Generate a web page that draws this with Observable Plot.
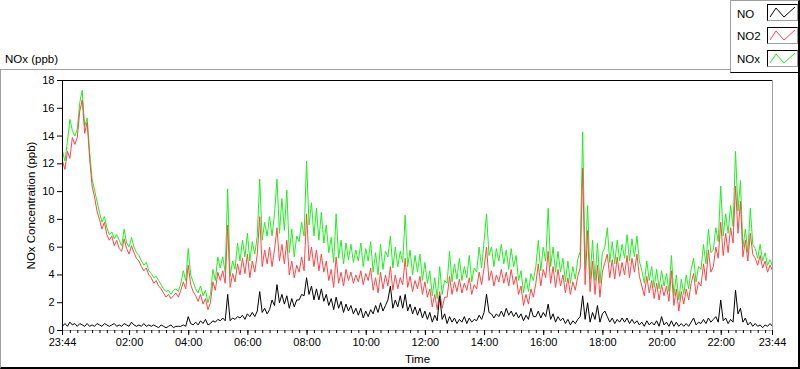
<!DOCTYPE html>
<html><head><meta charset="utf-8">
<script src="https://cdn.jsdelivr.net/npm/d3@7"></script>
<script src="https://cdn.jsdelivr.net/npm/@observablehq/plot@0.6"></script>
<style>
html,body{margin:0;padding:0;background:#fff;}
#wrap{position:relative;width:800px;height:369px;overflow:hidden;font-family:"Liberation Sans",Arial,sans-serif;color:#000;}
#frame{position:absolute;left:0;top:69px;width:800px;height:300px;box-sizing:border-box;border-left:1px solid #a0a0a0;border-top:1px solid #a0a0a0;border-right:2px solid #000;border-bottom:2px solid #000;}
#chart{position:absolute;left:0;top:0;}
#title{position:absolute;left:5px;top:51px;font-size:11.5px;line-height:16px;}
#legend{position:absolute;left:730px;top:0;width:70px;height:73px;box-sizing:border-box;border-left:1px solid #a0a0a0;border-top:1px solid #a0a0a0;border-right:2px solid #000;border-bottom:1px solid #000;background:#fff;z-index:3;}
.lab{position:absolute;left:6px;font-size:11.5px;line-height:16px;}
.sw{position:absolute;left:36px;width:31px;height:17px;box-sizing:border-box;border-top:1px solid #000;border-left:1px solid #000;border-right:1px solid #a0a0a0;border-bottom:1px solid #a0a0a0;}
.sw svg{position:absolute;left:0;top:0;}
</style>
</head><body>
<div id="wrap">
  <div id="frame"></div>
  <div id="chart"></div>
  <div id="title"></div>
  <div id="legend"></div>
</div>
<script>
// ---- data (5-minute steps from 23:44 to 23:44 next day) ----
const stepMinutes = 5;
const NO = [
0.3,0.5,0.3,0.6,0.4,0.5,0.3,0.5,0.4,0.3,0.5,0.3,
0.4,0.3,0.5,0.4,0.3,0.5,0.4,0.3,0.4,0.5,0.3,0.4,
0.3,0.5,0.4,0.3,0.6,0.4,0.3,0.4,0.3,0.5,0.3,0.4,
0.3,0.4,0.3,0.2,0.4,0.3,0.2,0.3,0.4,0.2,0.3,0.3,
0.3,0.4,0.3,1.0,0.5,0.4,0.6,0.4,0.7,0.5,0.8,0.4,
0.5,0.7,0.6,0.8,0.7,0.9,0.7,2.6,0.7,0.9,0.8,1.0,
0.9,1.1,0.8,1.2,1.0,1.3,1.0,1.4,2.8,1.3,1.6,1.2,
1.5,2.2,1.8,3.3,2.0,2.6,1.9,2.5,1.6,2.3,1.7,2.2,
2.2,2.6,2.5,3.8,2.6,3.2,2.2,3.0,2.2,3.0,2.1,2.6,
1.8,2.3,1.5,2.4,1.6,2.1,1.3,1.9,1.4,1.8,1.2,1.6,
1.1,1.6,0.9,1.4,1.0,1.5,1.2,1.8,1.3,2.0,1.4,1.8,
2.2,3.2,1.6,2.2,1.7,2.5,1.6,2.6,1.4,1.9,1.2,1.7,
1.1,1.6,0.9,1.4,0.8,1.3,0.6,1.1,0.7,2.5,0.8,1.2,
0.5,1.0,0.6,0.9,0.5,0.8,0.6,1.0,0.5,0.9,0.6,0.8,
0.7,1.1,0.8,1.3,2.6,1.3,1.2,0.9,1.2,1.0,1.4,1.0,
1.6,1.1,1.4,1.0,1.3,0.9,1.2,0.7,1.1,0.8,1.6,1.0,
1.0,1.4,0.9,1.3,1.0,1.9,0.8,1.2,0.6,1.0,0.7,0.9,
0.5,0.8,0.4,0.7,0.5,0.8,1.0,2.5,0.8,2.0,0.6,1.3,
0.8,1.8,0.6,1.2,1.4,1.0,0.6,0.9,0.5,0.8,0.6,0.9,
0.6,0.9,0.5,0.8,0.5,0.7,0.4,0.6,0.3,0.7,0.4,0.6,
0.4,0.7,0.3,1.0,0.4,0.6,0.3,0.7,0.3,0.6,0.3,0.5,
0.3,0.5,0.3,0.6,0.9,0.4,0.6,0.5,0.8,0.5,0.9,0.6,
0.8,1.0,0.6,2.2,0.7,0.9,0.5,0.8,0.6,2.9,1.2,1.6,
0.6,0.9,0.4,0.6,0.3,0.5,0.3,0.4,0.2,0.4,0.3,0.5,0.3];
const NO2 = [
12.2,11.6,12.9,12.4,13.9,13.4,13.9,15.8,16.6,14.2,15.0,12.4,
10.4,9.6,8.6,8.0,7.3,7.8,6.9,6.5,6.8,6.1,6.5,5.9,
5.7,6.6,5.9,5.5,6.1,5.6,5.2,5.0,4.6,4.3,4.5,4.0,
3.8,3.4,3.6,3.2,3.0,2.7,2.4,2.6,2.3,2.5,2.7,2.4,
2.9,3.5,3.0,4.7,3.3,2.8,2.5,2.1,2.6,1.9,2.3,1.5,
2.0,3.5,2.9,4.2,3.6,4.3,3.4,7.6,3.1,4.1,3.5,4.8,
4.0,5.2,4.1,5.5,3.8,5.0,4.2,5.5,8.2,4.6,5.8,4.8,
6.0,4.6,5.8,7.4,5.0,6.2,4.8,6.5,4.0,5.0,3.8,4.7,
4.2,5.3,4.3,8.4,5.0,6.0,4.6,5.8,4.3,5.5,4.2,5.0,
3.6,4.4,3.1,5.3,3.4,4.2,3.2,4.4,3.6,4.2,3.4,4.0,
3.5,4.3,3.3,4.1,3.6,4.5,2.9,3.8,2.7,4.2,3.0,4.0,
3.2,4.6,2.9,4.0,3.0,3.8,3.3,5.2,3.1,3.9,2.8,3.6,
3.0,3.9,2.6,3.5,2.4,3.0,1.7,2.6,1.5,2.8,1.6,2.4,
2.4,3.9,2.6,3.5,2.8,3.7,2.7,3.4,2.9,3.8,2.6,3.3,
3.0,4.2,3.3,4.5,6.0,3.6,4.3,3.2,4.0,3.5,4.4,3.4,
4.2,3.2,4.4,3.3,3.9,2.6,3.2,1.8,2.6,1.9,3.0,2.4,
3.4,4.8,3.2,4.4,3.8,5.7,3.4,4.6,3.1,4.4,3.2,4.0,
2.7,3.8,2.6,3.5,2.9,3.9,4.5,11.7,3.3,7.2,2.8,5.0,
2.6,4.7,2.4,4.2,4.9,5.5,3.8,5.1,3.7,5.3,3.9,4.9,
4.0,5.4,3.8,5.2,4.2,5.5,3.9,3.2,2.5,3.9,2.7,3.6,
2.3,3.4,2.2,3.3,2.5,3.2,2.1,4.3,1.8,3.0,1.4,2.8,
1.9,3.0,2.2,3.4,4.1,2.6,3.5,3.2,4.8,3.6,5.8,4.2,
4.6,6.0,5.2,7.8,5.4,7.0,5.6,7.4,6.3,10.4,7.0,9.3,
5.3,6.5,5.0,7.0,5.5,5.2,4.7,5.4,4.5,5.0,4.2,4.7,4.3];
const NOx = [
12.9,12.2,13.6,15.2,14.4,14.0,14.5,16.4,17.3,14.7,15.3,12.9,
10.9,10.1,9.3,8.5,7.8,8.2,7.4,6.9,7.1,6.6,6.9,6.5,
6.1,7.3,6.3,6.0,6.7,6.0,5.6,5.4,5.0,4.7,4.9,4.3,
4.1,3.8,3.9,3.6,3.3,3.0,2.8,2.9,2.6,2.9,3.0,2.8,
3.4,4.3,3.6,5.9,4.0,3.5,3.0,2.7,3.2,2.5,2.9,2.0,
2.6,4.4,3.6,5.3,4.5,5.3,4.2,10.2,3.9,5.0,4.4,6.3,
5.0,6.5,5.3,7.0,5.0,6.4,5.5,6.8,10.9,6.5,7.8,6.8,
8.2,6.8,8.4,10.9,7.0,9.5,7.2,10.1,5.6,7.3,5.3,6.8,
6.4,7.8,6.8,12.2,7.6,9.2,6.8,8.8,6.5,8.5,6.3,7.6,
5.6,6.7,4.9,8.4,5.2,6.5,4.8,6.3,5.1,6.2,4.9,5.8,
5.0,6.3,4.6,5.9,5.0,6.4,4.2,5.6,4.0,6.2,4.4,5.7,
5.3,6.8,4.5,6.0,4.6,5.7,4.9,8.3,4.6,5.8,4.0,5.4,
4.2,5.5,3.6,4.9,3.4,4.3,2.5,3.8,2.3,4.6,2.6,3.6,
3.4,5.7,3.5,4.8,3.7,5.2,3.6,4.6,3.8,5.4,3.5,4.5,
4.2,6.0,4.5,6.4,8.4,5.4,6.0,4.6,5.9,5.0,6.2,4.8,
5.8,4.4,5.9,4.6,5.4,3.6,4.3,2.7,3.8,2.8,4.1,3.6,
4.6,6.5,4.3,6.0,5.0,8.8,4.6,6.0,4.2,5.7,4.2,5.2,
3.5,5.0,3.4,4.6,3.7,5.1,5.7,14.3,4.4,9.0,3.7,6.5,
3.6,6.3,3.4,5.6,6.0,7.4,4.9,6.4,4.8,6.5,5.0,6.2,
5.2,6.9,5.0,6.6,5.3,6.8,5.0,4.3,3.4,5.0,3.6,4.6,
3.1,4.4,3.0,4.3,3.2,4.1,2.8,5.4,2.5,4.0,2.2,3.7,
2.6,4.0,3.0,4.4,5.2,3.5,4.6,4.4,6.2,4.8,7.3,5.6,
5.8,7.4,6.4,10.4,6.8,8.4,7.0,9.0,7.5,12.9,8.6,10.8,
6.0,7.3,5.6,8.8,6.2,5.9,5.2,6.2,5.0,5.6,4.7,5.1,4.6];
const seriesNames = ["NO", "NO2", "NOx"];
const seriesColors = ["#000000", "#ff4646", "#1ef01e"];
const xTickLabels = ["23:44","02:00","04:00","06:00","08:00","10:00","12:00","14:00","16:00","18:00","20:00","22:00","23:44"];
const yTicks = [0,2,4,6,8,10,12,14,16,18];
const titleText = "NOx (ppb)";
const yLabel = "NOx Concentration (ppb)";
const xLabel = "Time";

// ---- build ----
const startMin = 23*60 + 44;
const rows = vals => vals.map((v, i) => ({t: i * stepMinutes, v}));
const tickPos = xTickLabels.map((s, i) => {
  const [h, m] = s.split(":").map(Number);
  let d = h*60 + m - startMin; if (d < 0) d += 1440;
  if (i === xTickLabels.length - 1) d = 1440;
  return d;
});
const labelMap = new Map(tickPos.map((p, i) => [p, xTickLabels[i]]));
const minorTicks = d3.range(16, 1440, 15);

const chart = Plot.plot({
  width: 800, height: 369,
  marginLeft: 62, marginRight: 28, marginTop: 80, marginBottom: 39,
  style: {background: "transparent", fontFamily: "'Liberation Sans', Arial, sans-serif", fontSize: "11px", color: "#000", overflow: "visible"},
  x: {domain: [0, 1440]},
  y: {domain: [0, 18]},
  marks: [
    Plot.line(rows(NOx), {x: "t", y: "v", stroke: seriesColors[2], strokeWidth: 1}),
    Plot.line(rows(NO2), {x: "t", y: "v", stroke: seriesColors[1], strokeWidth: 1}),
    Plot.line(rows(NO), {x: "t", y: "v", stroke: seriesColors[0], strokeWidth: 1}),
    Plot.ruleY([0], {stroke: "#a0a0a0"}),
    Plot.ruleX([1440], {stroke: "#a0a0a0"}),
    Plot.ruleY([18], {stroke: "#000"}),
    Plot.ruleX([0], {stroke: "#000"}),
    Plot.axisY({ticks: yTicks, tickSize: 5, tickPadding: 3, label: null}),
    Plot.axisX({ticks: minorTicks, tickSize: 3, tickFormat: () => "", label: null}),
    Plot.axisX({ticks: tickPos, tickSize: 5, tickPadding: 3, tickFormat: d => labelMap.get(d), label: null}),
    Plot.text([yLabel], {text: d => d, frameAnchor: "left", dx: -31, rotate: -90, textAnchor: "middle", lineAnchor: "middle", fontSize: 11.5}),
    Plot.text([xLabel], {text: d => d, frameAnchor: "bottom", dy: 29, textAnchor: "middle", lineAnchor: "middle", fontSize: 11.5})
  ]
});
document.getElementById("chart").appendChild(chart);
document.getElementById("title").textContent = titleText;

// legend
const legend = document.getElementById("legend");
const labTops = [5, 27, 50];
const swTops = [3, 26, 49];
seriesNames.forEach((name, i) => {
  const l = document.createElement("div");
  l.className = "lab"; l.style.top = labTops[i] + "px"; l.textContent = name;
  legend.appendChild(l);
  const s = document.createElement("div");
  s.className = "sw"; s.style.top = swTops[i] + "px";
  s.innerHTML = `<svg width="29" height="15"><polyline points="2,12 8,3 16,12 27,2" fill="none" stroke="${seriesColors[i]}" stroke-width="1"/></svg>`;
  legend.appendChild(s);
});
</script>
</body></html>
